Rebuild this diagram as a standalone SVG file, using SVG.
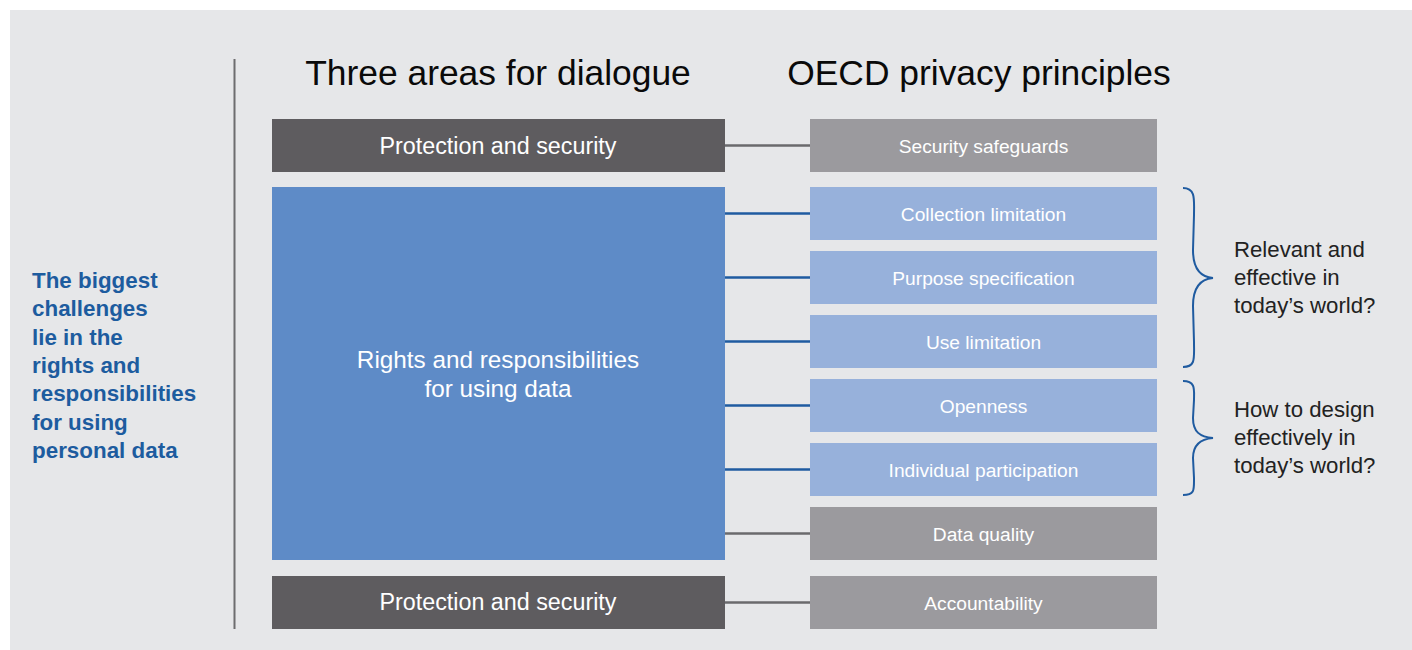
<svg xmlns="http://www.w3.org/2000/svg" width="1412" height="650" viewBox="0 0 1412 650">
  <style>
    text { font-family: "Liberation Sans", Arial, sans-serif; }
    .title { font-size: 35.4px; fill: #0a0a0a; text-anchor: middle; }
    .dark { fill: #5e5c5f; }
    .blue { fill: #5e8bc7; }
    .light { fill: #97b1db; }
    .grey { fill: #9b9a9e; }
    .lbl-l { font-size: 23.3px; fill: #ffffff; text-anchor: middle; }
    .lbl-big { font-size: 24.3px; fill: #ffffff; text-anchor: middle; }
    .lbl-r { font-size: 19.2px; fill: #ffffff; text-anchor: middle; }
    .side { font-size: 22.4px; font-weight: bold; fill: #1d5c9f; }
    .note { font-size: 22.2px; fill: #222222; }
    .cg { stroke: #6a6a6c; stroke-width: 2.5; fill: none; }
    .cb { stroke: #1f5ba0; stroke-width: 2.5; fill: none; }
    .brace { stroke: #1f5ba0; stroke-width: 2; fill: none; }
  </style>

  <!-- panel -->
  <rect x="10" y="10" width="1402" height="640" fill="#e6e7e9"/>
  <line x1="234.5" y1="59" x2="234.5" y2="629" stroke="#6d6d6f" stroke-width="2"/>

  <!-- left caption -->
  <text class="side">
    <tspan x="32" y="288">The biggest</tspan>
    <tspan x="32" y="316">challenges</tspan>
    <tspan x="32" y="345">lie in the</tspan>
    <tspan x="32" y="373">rights and</tspan>
    <tspan x="32" y="401">responsibilities</tspan>
    <tspan x="32" y="430">for using</tspan>
    <tspan x="32" y="458">personal data</tspan>
  </text>

  <!-- column headings -->
  <text class="title" x="498" y="85">Three areas for dialogue</text>
  <text class="title" x="979" y="85">OECD privacy principles</text>

  <!-- connectors -->
  <g id="connectors">
    <line class="cg" x1="725" y1="145.5" x2="810" y2="145.5"/>
    <line class="cb" x1="725" y1="213.5" x2="810" y2="213.5"/>
    <line class="cb" x1="725" y1="277.5" x2="810" y2="277.5"/>
    <line class="cb" x1="725" y1="341.5" x2="810" y2="341.5"/>
    <line class="cb" x1="725" y1="405.5" x2="810" y2="405.5"/>
    <line class="cb" x1="725" y1="469.5" x2="810" y2="469.5"/>
    <line class="cg" x1="725" y1="533.5" x2="810" y2="533.5"/>
    <line class="cg" x1="725" y1="602.5" x2="810" y2="602.5"/>
  </g>

  <!-- areas for dialogue -->
  <g id="area-protection-top">
    <rect class="dark" x="272" y="119" width="453" height="53"/>
    <text class="lbl-l" x="498" y="154">Protection and security</text>
  </g>
  <g id="area-rights">
    <rect class="blue" x="272" y="187" width="453" height="373"/>
    <text class="lbl-big" x="498" y="368">Rights and responsibilities</text>
    <text class="lbl-big" x="498" y="397">for using data</text>
  </g>
  <g id="area-protection-bottom">
    <rect class="dark" x="272" y="576" width="453" height="53"/>
    <text class="lbl-l" x="498" y="610">Protection and security</text>
  </g>

  <!-- privacy principles -->
  <g id="p-security">
    <rect class="grey" x="810" y="119" width="347" height="53"/>
    <text class="lbl-r" x="983.5" y="152.5">Security safeguards</text>
  </g>
  <g id="p-collection">
    <rect class="light" x="810" y="187" width="347" height="53"/>
    <text class="lbl-r" x="983.5" y="220.5">Collection limitation</text>
  </g>
  <g id="p-purpose">
    <rect class="light" x="810" y="251" width="347" height="53"/>
    <text class="lbl-r" x="983.5" y="284.5">Purpose specification</text>
  </g>
  <g id="p-use">
    <rect class="light" x="810" y="315" width="347" height="53"/>
    <text class="lbl-r" x="983.5" y="348.5">Use limitation</text>
  </g>
  <g id="p-openness">
    <rect class="light" x="810" y="379" width="347" height="53"/>
    <text class="lbl-r" x="983.5" y="412.5">Openness</text>
  </g>
  <g id="p-participation">
    <rect class="light" x="810" y="443" width="347" height="53"/>
    <text class="lbl-r" x="983.5" y="476.5">Individual participation</text>
  </g>
  <g id="p-quality">
    <rect class="grey" x="810" y="507" width="347" height="53"/>
    <text class="lbl-r" x="983.5" y="540.5">Data quality</text>
  </g>
  <g id="p-accountability">
    <rect class="grey" x="810" y="576" width="347" height="53"/>
    <text class="lbl-r" x="983.5" y="609.5">Accountability</text>
  </g>

  <!-- braces and questions -->
  <g id="group-relevant">
    <path class="brace" d="M1183,188 C1196,188 1194,200 1194,215 L1193,250 C1193,268 1200,277 1213,278 C1200,279 1193,288 1193,306 L1194,342 C1194,358 1196,367 1183,367"/>
    <text class="note">
      <tspan x="1234" y="257">Relevant and</tspan>
      <tspan x="1234" y="285">effective in</tspan>
      <tspan x="1234" y="313">today’s world?</tspan>
    </text>
  </g>
  <g id="group-design">
    <path class="brace" d="M1183,381 C1196,381 1194,390 1194,400 L1193,418 C1193,432 1200,437 1213,438 C1200,439 1193,445 1193,458 L1194,478 C1194,490 1195,495 1183,495"/>
    <text class="note">
      <tspan x="1234" y="417">How to design</tspan>
      <tspan x="1234" y="445">effectively in</tspan>
      <tspan x="1234" y="473">today’s world?</tspan>
    </text>
  </g>
</svg>
